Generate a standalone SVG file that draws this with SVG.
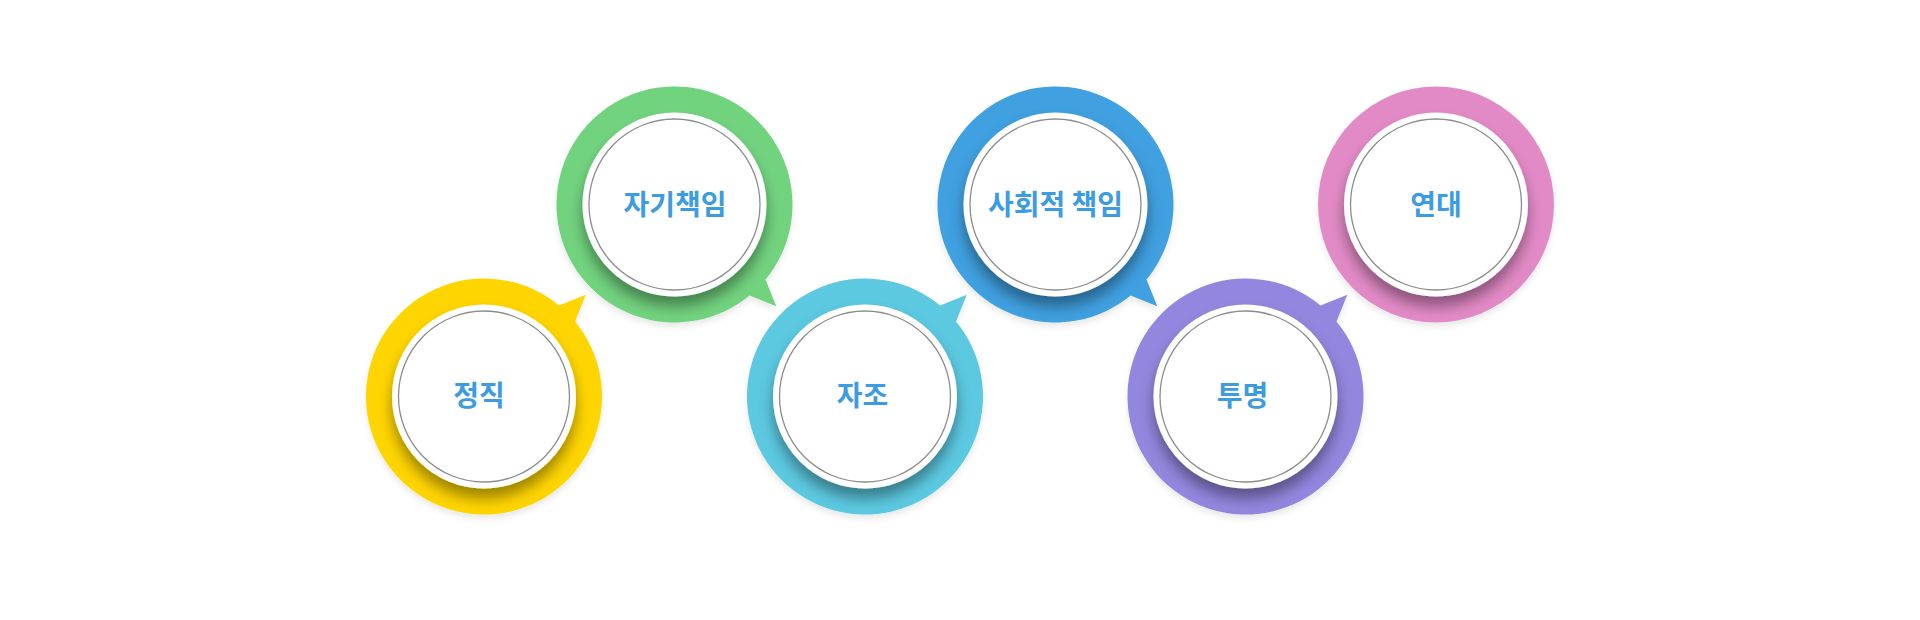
<svg xmlns="http://www.w3.org/2000/svg" width="1920" height="620" viewBox="0 0 1920 620">
  <style>
    .ring { stroke: none; filter: url(#outerShadow); }
    .disc { fill: #ffffff; filter: url(#discShadow); }
    .line { fill: none; stroke: #8c8c8c; stroke-width: 1.3; }
    .label { font-family: "Noto Sans CJK KR", "Noto Sans", sans-serif; font-size: 28px; font-weight: 700; fill: #3c9ce2; text-anchor: middle; }
  </style>
  <defs>
    <filter id="outerShadow" x="-20%" y="-20%" width="140%" height="150%">
      <feDropShadow dx="0" dy="4" stdDeviation="3" flood-color="#000000" flood-opacity="0.09"/>
    </filter>
    <filter id="discShadow" x="-30%" y="-30%" width="160%" height="170%">
      <feDropShadow dx="0" dy="10" stdDeviation="7" flood-color="#000000" flood-opacity="0.38"/>
    </filter>
    <path id="bubbleUp" d="M 75.1,-91 L 101.8,-101.8 L 91,-75.1 A 118 118 0 1 1 75.1,-91 Z"/>
    <path id="bubbleDown" d="M 91,75.1 L 101.8,101.8 L 75.1,91 A 118 118 0 1 1 91,75.1 Z"/>
  </defs>
  <rect width="1920" height="620" fill="#ffffff"/>

  <g id="node-jeongjik" transform="translate(484,396.5)">
    <use href="#bubbleUp" class="ring" fill="#ffd500"/>
    <circle class="disc" r="92"/>
    <circle class="line" r="85.5"/>
    <text class="label" x="-5" y="9">정직</text>
  </g>

  <g id="node-jagichaegim" transform="translate(674.5,204.5)">
    <use href="#bubbleDown" class="ring" fill="#72d37f"/>
    <circle class="disc" r="92"/>
    <circle class="line" r="85.5"/>
    <text class="label" x="0.5" y="10">자기책임</text>
  </g>

  <g id="node-jajo" transform="translate(865,396.5)">
    <use href="#bubbleUp" class="ring" fill="#5bc9e1"/>
    <circle class="disc" r="92"/>
    <circle class="line" r="85.5"/>
    <text class="label" x="-2.5" y="9">자조</text>
  </g>

  <g id="node-sahoejeok" transform="translate(1055.5,204.5)">
    <use href="#bubbleDown" class="ring" fill="#3fa0e0"/>
    <circle class="disc" r="92"/>
    <circle class="line" r="85.5"/>
    <text class="label" x="0" y="10">사회적 책임</text>
  </g>

  <g id="node-tumyeong" transform="translate(1245.5,396.5)">
    <use href="#bubbleUp" class="ring" fill="#9386de"/>
    <circle class="disc" r="92"/>
    <circle class="line" r="85.5"/>
    <text class="label" x="-3" y="9">투명</text>
  </g>

  <g id="node-yeondae" transform="translate(1436,204.5)">
    <circle class="ring" r="118" fill="#e28ac6"/>
    <circle class="disc" r="92"/>
    <circle class="line" r="85.5"/>
    <text class="label" x="0" y="10">연대</text>
  </g>

  <g id="connectors"></g>
</svg>
